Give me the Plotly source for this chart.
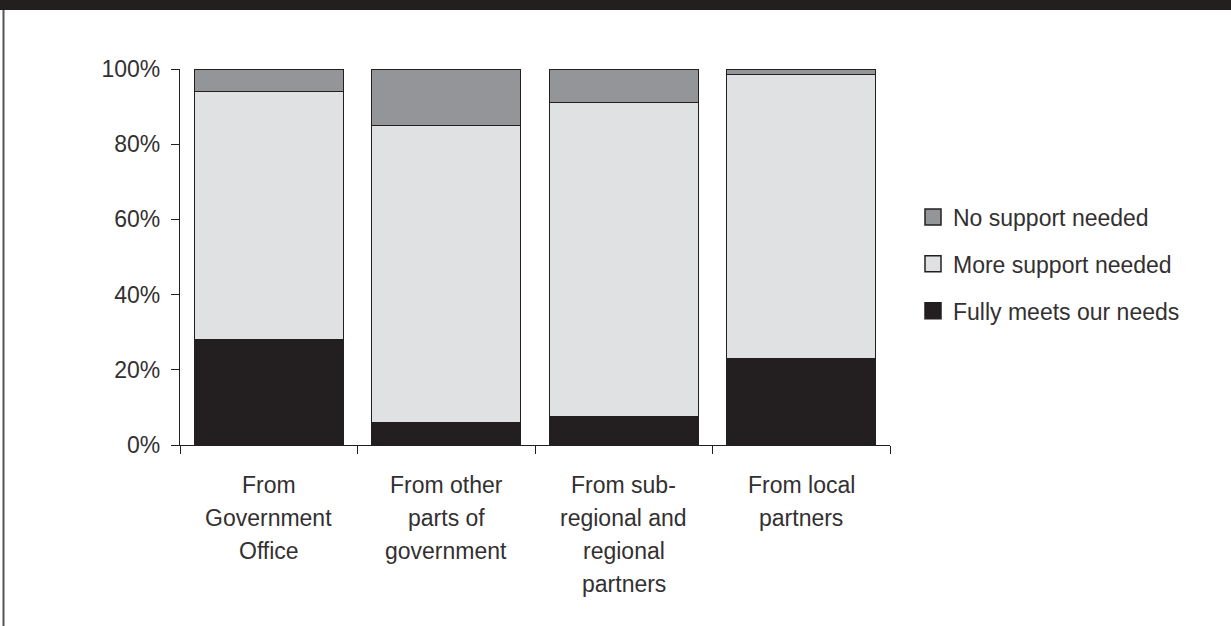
import plotly.graph_objects as go

categories = ["From<br>Government<br>Office", "From other<br>parts of<br>government",
              "From sub-<br>regional and<br>regional<br>partners", "From local<br>partners"]
cat_keys = ["GO", "OPG", "SRP", "LP"]
fully_meets = [28, 6, 7.5, 23]
more_support = [66, 79, 83.5, 75.5]
no_support = [6, 15, 9, 1.5]
y_ticks = [0, 20, 40, 60, 80, 100]
y_tick_labels = ["0%", "20%", "40%", "60%", "80%", "100%"]

series = [
    ("Fully meets our needs", fully_meets, "#231f20"),
    ("More support needed", more_support, "#e0e1e3"),
    ("No support needed", no_support, "#939598"),
]

FONT = "Liberation Sans, Arial, sans-serif"
TXT = "#333031"
EDGE = "#231f20"
FS = 23

fig = go.Figure()
for name, vals, col in series:
    fig.add_trace(go.Bar(
        x=cat_keys, y=vals, name=name, showlegend=False,
        marker=dict(color=col, line=dict(color=EDGE, width=1.3)),
    ))
for name, vals, col in reversed(series):
    fig.add_trace(go.Scatter(
        x=[None], y=[None], mode="markers", name=name, legendgroup=name,
        marker=dict(symbol="square", size=16, color=col, line=dict(color=EDGE, width=1.5)),
    ))

annotations = []
for key, lab in zip(cat_keys, categories):
    for j, line in enumerate(lab.split("<br>")):
        annotations.append(dict(
            x=key, y=0, xref="x", yref="paper", text=line, showarrow=False,
            xanchor="center", yanchor="middle", yshift=-(40 + 33 * j),
            font=dict(family=FONT, size=FS, color=TXT),
        ))

W, H = 1231, 626
L, R, T, B = 180, 341, 69, 181
pw, ph = W - L - R, H - T - B

def px(xpix):
    return (xpix - L) / pw

def py(ypix):
    return 1 - (ypix - T) / ph

shapes = [
    dict(type="rect", xref="paper", yref="paper", x0=px(0), x1=px(W), y0=py(0), y1=py(10),
         fillcolor="#221f1e", line=dict(width=0), layer="above"),
    dict(type="line", xref="paper", yref="paper", x0=px(3.5), x1=px(3.5), y0=py(10), y1=py(H),
         line=dict(color="#555555", width=2)),
]

fig.update_layout(
    width=W, height=H,
    margin=dict(l=L, r=R, t=T, b=B, pad=0),
    paper_bgcolor="white", plot_bgcolor="white",
    barmode="stack", bargap=0.16,
    font=dict(family=FONT, size=FS, color=TXT),
    xaxis=dict(type="category", range=[-0.5, 3.5], showticklabels=False,
               ticks="outside", tickson="boundaries", ticklen=8, tickwidth=1.3, tickcolor=EDGE,
               showline=True, linecolor=EDGE, linewidth=1.3, showgrid=False, zeroline=False,
               fixedrange=True),
    yaxis=dict(range=[0, 100], tickvals=y_ticks, ticktext=y_tick_labels,
               ticks="outside", ticklen=8, tickwidth=1.3, tickcolor=EDGE,
               ticklabelstandoff=6,
               showline=True, linecolor=EDGE, linewidth=1.3, showgrid=False, zeroline=False,
               tickfont=dict(family=FONT, size=FS, color=TXT), fixedrange=True),
    legend=dict(x=px(913), y=py(264), xanchor="left", yanchor="middle",
                traceorder="grouped", tracegroupgap=14,
                font=dict(family=FONT, size=FS, color=TXT), bgcolor="rgba(0,0,0,0)",
                itemsizing="trace"),
    annotations=annotations,
    shapes=shapes,
)

fig.write_html("out.html")
